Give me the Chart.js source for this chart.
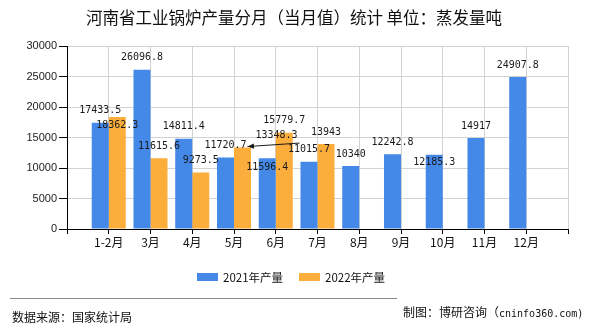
<!DOCTYPE html>
<html>
<head>
<meta charset="utf-8">
<script src="https://cdn.jsdelivr.net/npm/chart.js@4"></script>
<style>
  body { margin: 0; background: #fff; }
  #wrap { position: relative; width: 590px; height: 330px; overflow: hidden; font-family: "Noto Sans CJK SC", sans-serif; color: #111; }
  #chart { position: absolute; left: 0; top: 0; }
  .title { position: absolute; left: 0; width: 588px; top: 7px; text-align: center; font-size: 16.5px; line-height: 20px; }
  .legend { position: absolute; top: 269px; left: 0; height: 16px; font-size: 11.5px; line-height: 16px; }
  .legend span { position: absolute; white-space: nowrap; }
  .legend i { position: absolute; top: 4px; width: 21px; height: 8px; }
  .rule { position: absolute; left: 10px; top: 298px; width: 387px; height: 1px; background: #8a8a8a; }
  .src { position: absolute; left: 12px; top: 309px; font-size: 12px; line-height: 16px; white-space: nowrap; }
  .maker { position: absolute; left: 403px; top: 304px; font-size: 12px; line-height: 16px; white-space: nowrap; }
  .maker b { font-weight: normal; font-family: "DejaVu Sans Mono", monospace; font-size: 10px; }
</style>
</head>
<body>
<div id="wrap">
  <canvas id="chart" width="590" height="330"></canvas>
  <div class="title">河南省工业锅炉产量分月（当月值）统计 单位：蒸发量吨</div>
  <div class="legend" id="legend"></div>
  <div class="rule"></div>
  <div class="src">数据来源：国家统计局</div>
  <div class="maker">制图：博研咨询（<b>cninfo360.com)</b></div>
</div>
<script>
const months = ["1-2月", "3月", "4月", "5月", "6月", "7月", "8月", "9月", "10月", "11月", "12月"];
const seriesNames = ["2021年产量", "2022年产量"];
const output2021 = [17433.5, 26096.8, 14811.4, 11720.7, 11596.4, 11015.7, 10340, 12242.8, 12185.3, 14917, 24907.8];
const output2022 = [18362.3, 11615.6, 9273.5, 13348.3, 15779.7, 13943, null, null, null, null, null];
const yTicks = [0, 5000, 10000, 15000, 20000, 25000, 30000];

const colors = ["#4489e8", "#fbae3c"];

// empty slot on each side so the months sit between the axis ends
const labels = ["", ...months, ""];
const pad = (arr) => [null, ...arr, null];

// labels that were pushed off their default spot above the bar
// key = "dataset-month", value = [dx, dy]
const labelNudge = {
  "1-0": [0, 20],
  "0-4": [0, 21],
  "0-8": [0, 20],
  "1-3": [34, 0],
};
const arrowLabels = ["1-3"];

const valueLabels = {
  id: "valueLabels",
  afterDatasetsDraw(chart) {
    const ctx = chart.ctx;
    ctx.save();
    ctx.font = "10px 'DejaVu Sans Mono', monospace";
    ctx.fillStyle = "#1a1a1a";
    ctx.strokeStyle = "#1a1a1a";
    ctx.textAlign = "center";
    ctx.textBaseline = "middle";
    chart.data.datasets.forEach((ds, d) => {
      const meta = chart.getDatasetMeta(d);
      meta.data.forEach((bar, i) => {
        const v = ds.data[i];
        if (v == null) return;
        const key = d + "-" + (i - 1);
        const [dx, dy] = labelNudge[key] || [0, 0];
        ctx.fillText(String(v), bar.x + dx, bar.y - 12 + dy);
        if (arrowLabels.includes(key)) {
          // leader line back to the bar it belongs to
          const x0 = bar.x + 57, y0 = bar.y - 4.5;
          const x1 = bar.x + 5, y1 = bar.y - 1;
          ctx.lineWidth = 1;
          ctx.beginPath();
          ctx.moveTo(x0, y0);
          ctx.lineTo(x1, y1);
          ctx.stroke();
          const a = Math.atan2(y1 - y0, x1 - x0);
          ctx.beginPath();
          ctx.moveTo(x1, y1);
          ctx.lineTo(x1 - 7 * Math.cos(a - 0.4), y1 - 7 * Math.sin(a - 0.4));
          ctx.lineTo(x1 - 7 * Math.cos(a + 0.4), y1 - 7 * Math.sin(a + 0.4));
          ctx.closePath();
          ctx.fill();
        }
      });
    });
    ctx.restore();
  },
};

new Chart(document.getElementById("chart"), {
  type: "bar",
  data: {
    labels,
    datasets: [
      { label: seriesNames[0], data: pad(output2021), backgroundColor: colors[0] },
      { label: seriesNames[1], data: pad(output2022), backgroundColor: colors[1] },
    ],
  },
  options: {
    responsive: false,
    animation: false,
    devicePixelRatio: 1,
    categoryPercentage: 0.815,
    barPercentage: 1,
    layout: { padding: { left: 0, right: 22, top: 46, bottom: 71 } },
    plugins: { legend: { display: false }, tooltip: { enabled: false } },
    scales: {
      x: {
        offset: false,
        grid: { offset: false, color: "#d2d2d2", tickColor: "#000", tickLength: 5 },
        border: { color: "#000" },
        ticks: {
          autoSkip: false,
          maxRotation: 0,
          padding: 1,
          color: "#111",
          font: { family: "'Noto Sans CJK SC', sans-serif", size: 12 },
        },
        afterFit: (s) => { s.height = 30; },
      },
      y: {
        min: yTicks[0],
        max: yTicks[yTicks.length - 1],
        afterBuildTicks: (s) => { s.ticks = yTicks.map((v) => ({ value: v })); },
        grid: { color: "#d2d2d2", tickColor: "#000", tickLength: 8 },
        border: { color: "#000" },
        ticks: {
          padding: 2,
          color: "#222",
          font: { family: "'Liberation Sans', Arial, sans-serif", size: 11 },
          callback: (v) => String(v),
        },
        afterFit: (s) => { s.width = 67; },
      },
    },
  },
  plugins: [valueLabels],
});

// legend built from the series names
const legend = document.getElementById("legend");
const legendLeft = [197, 299];
seriesNames.forEach((name, k) => {
  const box = document.createElement("i");
  box.style.left = legendLeft[k] + "px";
  box.style.background = colors[k];
  const txt = document.createElement("span");
  txt.style.left = legendLeft[k] + 26 + "px";
  txt.textContent = name;
  legend.appendChild(box);
  legend.appendChild(txt);
});
</script>
</body>
</html>
